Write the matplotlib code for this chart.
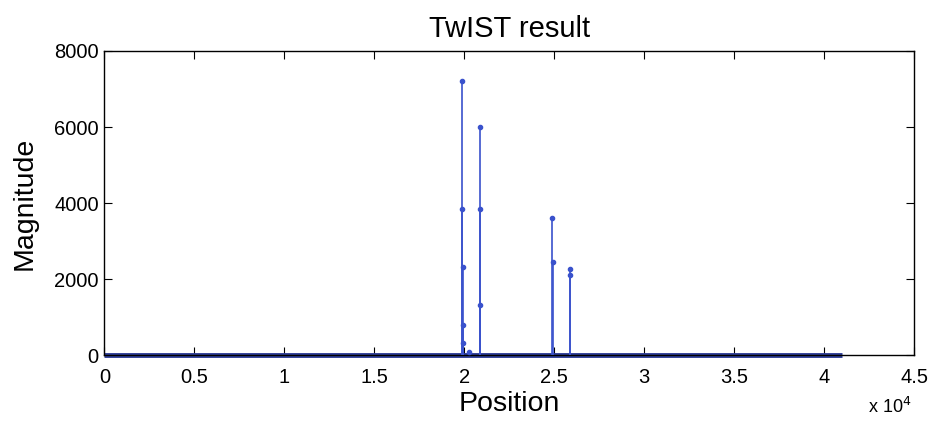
import matplotlib.pyplot as plt

plt.rcParams['font.family'] = ['Liberation Sans', 'DejaVu Sans']

# signal length and nonzero coefficients (position, magnitude)
n_samples = 41000
positions = [19880, 19890, 19900, 19910, 19920, 20280, 20850, 20860, 20870, 24890, 24900, 25880, 25890]
magnitudes = [7220, 3850, 2310, 800, 330, 95, 5990, 3850, 1320, 3600, 2450, 2270, 2110]

xticks = [0, 5000, 10000, 15000, 20000, 25000, 30000, 35000, 40000, 45000]
xtick_labels = ['0', '0.5', '1', '1.5', '2', '2.5', '3', '3.5', '4', '4.5']
yticks = [0, 2000, 4000, 6000, 8000]

stem_color = '#3a52cc'
base_color = '#2c3c96'

fig = plt.figure(figsize=(9.32, 4.21), dpi=100)
ax = fig.add_axes([0.112, 0.156, 0.869, 0.723])

ax.hlines(0, 1, n_samples, color=base_color, lw=3.5, zorder=2, clip_on=False)
ax.vlines(positions, 0, magnitudes, color=stem_color, lw=1.2, zorder=3)
ax.plot(positions, magnitudes, 'o', color=stem_color, ms=3, zorder=4)

ax.set_xlim(0, 45000)
ax.set_ylim(0, 8000)
ax.set_xticks(xticks)
ax.set_xticklabels(xtick_labels)
ax.set_yticks(yticks)
ax.tick_params(direction='in', top=True, right=True, length=6, labelsize=14.5)
ax.tick_params(axis='x', pad=9)
ax.tick_params(axis='y', pad=4)
for s in ax.spines.values():
    s.set_linewidth(1.0)

ax.set_title('TwIST result', fontsize=21, pad=10)
ax.set_xlabel('Position', fontsize=20.5, labelpad=3)
ax.set_ylabel('Magnitude', fontsize=20.5, labelpad=12)
fig.text(0.955, 0.01, r'x 10$^4$', fontsize=13, ha='center', va='bottom')

fig.savefig('out.png', dpi=100)
